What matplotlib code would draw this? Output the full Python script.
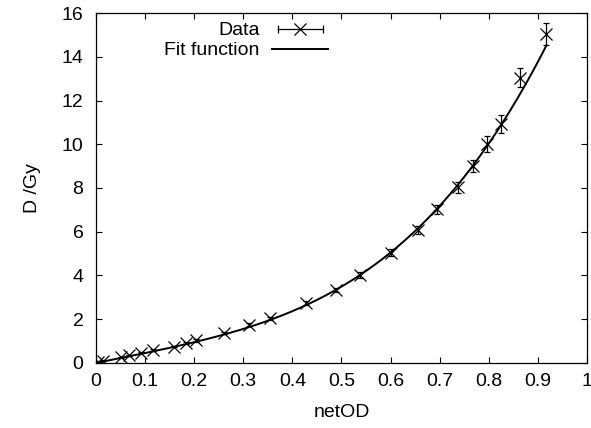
import numpy as np
import matplotlib
matplotlib.use("Agg")
import matplotlib.pyplot as plt
from matplotlib.lines import Line2D
from matplotlib.legend_handler import HandlerLine2D, HandlerTuple

plt.rcParams['font.family'] = ['Liberation Sans', 'DejaVu Sans']

net_od = [0.005, 0.015, 0.050, 0.068, 0.091, 0.116, 0.158, 0.184, 0.204,
          0.261, 0.311, 0.355, 0.427, 0.489, 0.537, 0.601, 0.656, 0.694,
          0.737, 0.768, 0.797, 0.824, 0.864, 0.917]
dose   = [0.05, 0.10, 0.26, 0.35, 0.47, 0.59, 0.75, 0.90, 1.03,
          1.36, 1.75, 2.04, 2.76, 3.35, 4.02, 5.04, 6.08, 7.03,
          8.03, 9.02, 10.01, 10.93, 13.04, 15.04]
dose_err = [0.02, 0.02, 0.03, 0.03, 0.03, 0.03, 0.04, 0.04, 0.05,
            0.05, 0.06, 0.07, 0.09, 0.10, 0.12, 0.15, 0.18, 0.21,
            0.24, 0.27, 0.36, 0.40, 0.43, 0.50]

# fit: D = a*x + b*x^n
FIT_A = 4.5
FIT_B = 14.05
FIT_N = 3.5
x_fit = np.linspace(0.0, 0.917, 300)
d_fit = FIT_A * x_fit + FIT_B * x_fit**FIT_N

FS = 14

fig = plt.figure(figsize=(5.91, 4.28), dpi=100)
ax = fig.add_axes([0.1624, 0.1519, 0.8308, 0.8177])

ax.errorbar(net_od, dose, yerr=dose_err, fmt='x', color='black', ms=8,
            mew=0.9, elinewidth=0.9, capsize=2.5, capthick=0.9)
ax.plot(x_fit, d_fit, color='black', lw=1.4)

ax.set_xlim(0, 1)
ax.set_ylim(0, 16)
ax.set_xticks(np.arange(0, 1.01, 0.1))
ax.set_xticklabels(["0", "0.1", "0.2", "0.3", "0.4", "0.5", "0.6", "0.7",
                    "0.8", "0.9", "1"])
ax.set_yticks(range(0, 17, 2))
ax.tick_params(direction='in', top=True, right=True, length=4, width=0.8,
               labelsize=FS, pad=7)
ax.tick_params(axis='y', pad=9)
for s in ax.spines.values():
    s.set_linewidth(0.9)

ax.set_xlabel("netOD", fontsize=FS, labelpad=10)
ax.set_ylabel("D /Gy", fontsize=FS, labelpad=15)

# gnuplot-style legend key
h_bar = Line2D([], [], color='black', lw=0.9, marker='|', ms=6, mew=0.9)
h_x = Line2D([], [], color='black', lw=0, marker='x', ms=8, mew=0.9)
h_fit = Line2D([], [], color='black', lw=1.4)
leg = ax.legend([(h_bar, h_x), h_fit], ["Data", "Fit function"],
                loc='upper right', bbox_to_anchor=(0.4735, 0.975),
                frameon=False, markerfirst=False, fontsize=FS,
                handlelength=2.9, handletextpad=0.65, labelspacing=0.12,
                borderaxespad=0, borderpad=0,
                handler_map={h_bar: HandlerLine2D(numpoints=2),
                             h_x: HandlerLine2D(numpoints=1),
                             tuple: HandlerTuple(ndivide=1)})
for t in leg.get_texts():
    t.set_ha('right')

fig.savefig("out.png", dpi=100)
